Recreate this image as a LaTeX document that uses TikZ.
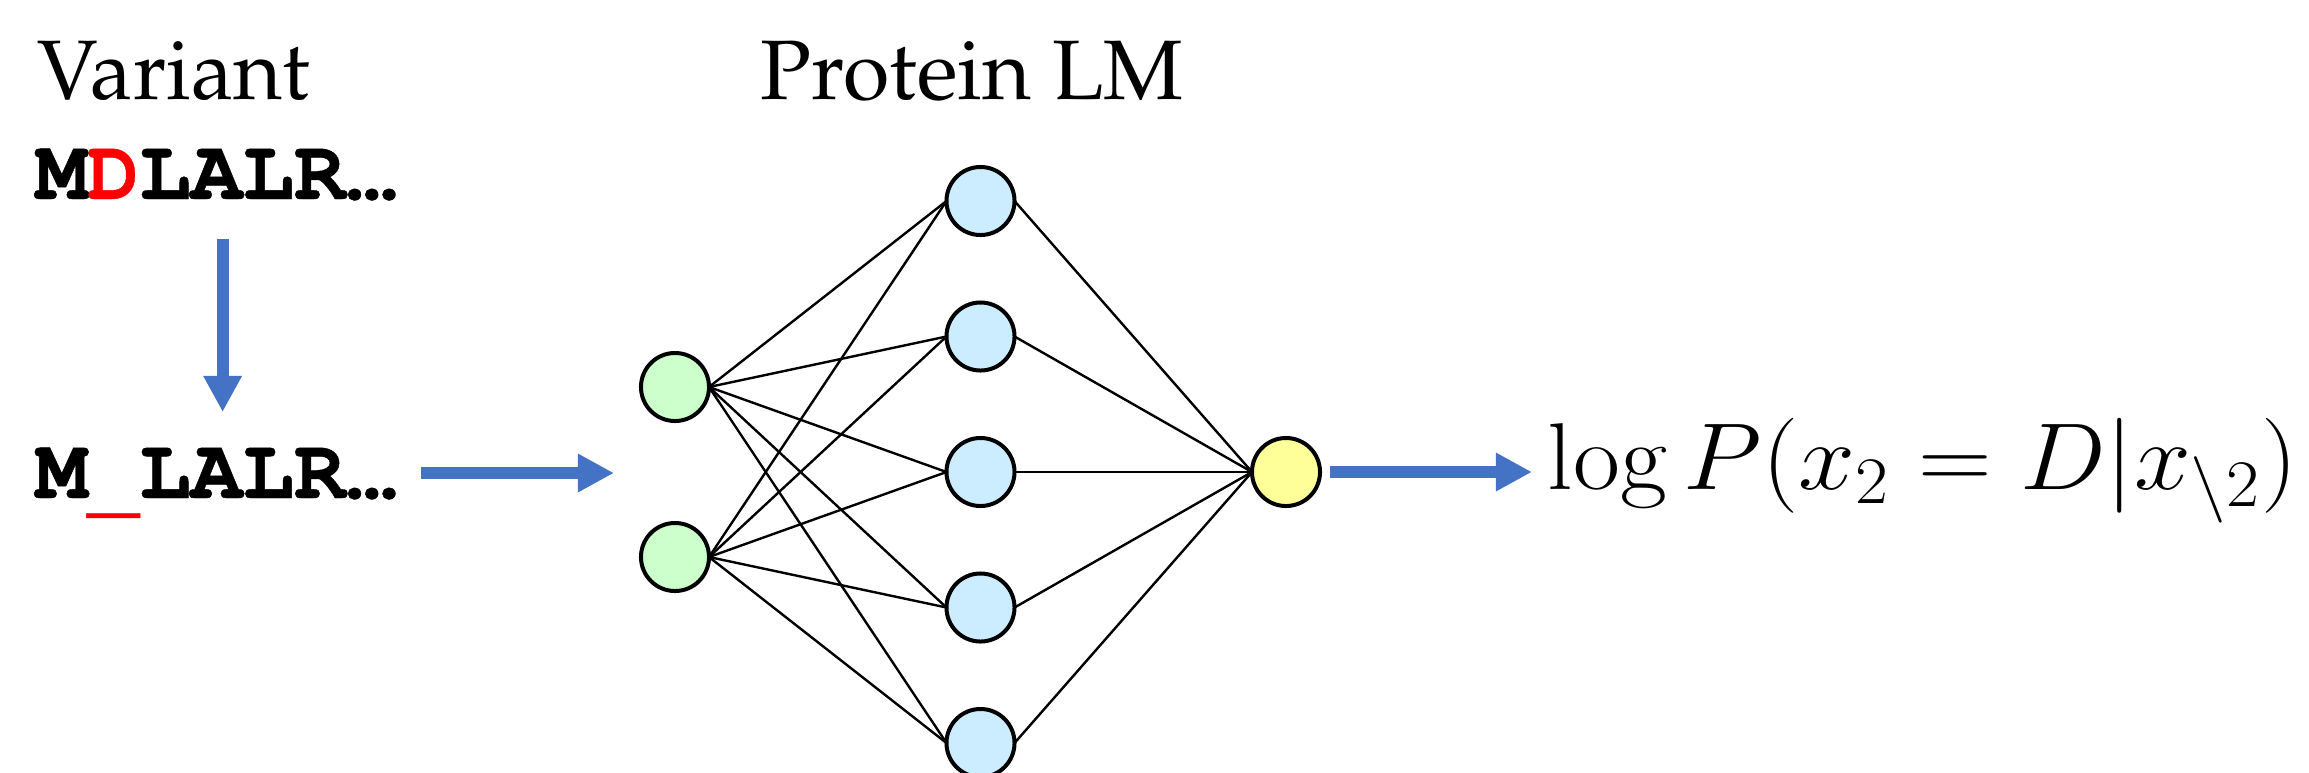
\RequirePackage{fix-cm}
\documentclass[tikz,border=0pt]{standalone}
\usepackage[T1]{fontenc}
\usepackage{fontspec}
\usepackage{graphicx}
\usetikzlibrary{arrows.meta}
\newfontfamily\courbase{texgyrecursor-bold.otf}[FakeBold=0.5]
\definecolor{arrowblue}{RGB}{68,114,196}
\definecolor{ingreen}{RGB}{204,255,204}
\definecolor{hidblue}{RGB}{204,236,255}
\definecolor{outyellow}{RGB}{255,255,153}
\newcommand{\palfont}{\fontencoding{T1}\fontfamily{ppl}\fontsize{24}{29}\selectfont}
\newcommand{\courbold}{\courbase\fontsize{24.5}{29}\selectfont}
\begin{document}
\begin{tikzpicture}[x=0.01cm, y=-0.01cm,
  lab/.style={inner sep=0pt, anchor=base west, font=\palfont},
  seqtext/.style={inner sep=0pt, anchor=base west, font=\courbold},
  neuron/.style={circle, draw=black, line width=0.04cm, minimum size=0.68cm, inner sep=0pt, outer sep=0pt},
  innode/.style={neuron, fill=ingreen},
  hidnode/.style={neuron, fill=hidblue},
  outnode/.style={neuron, fill=outyellow},
  edge/.style={draw=black, line width=0.024cm},
  bigarrow/.style={draw=arrowblue, line width=0.12cm, -{Triangle[length=0.36cm, width=0.36cm]}}
]
\path[use as bounding box] (0,0) rectangle (2309,772);

% titles
\node[lab] (variant) at (37,99) {Variant};
\node[lab] (plm) at (760,99) {Protein LM};

% sequences
\node[seqtext] (seq1) at (35,199) {M\textcolor{red}{D}LALR…};
\node[seqtext] (seq2) at (35,498) {M\textcolor{red}{\raisebox{-0.09cm}{\_}}LALR…};

% network
\node[innode] (i1) at (675,387) {};
\node[innode] (i2) at (675,557) {};
\foreach \j/\y in {1/201, 2/336.5, 3/472, 4/607.5, 5/743}
  \node[hidnode] (h\j) at (980.5,\y) {};
\node[outnode] (o) at (1286,472) {};

\foreach \i in {1,2}
  \foreach \j in {1,...,5}
    \draw[edge] (i\i.east) -- (h\j.west);
\foreach \j in {1,...,5}
  \draw[edge] (h\j.east) -- (o.west);

% output formula
\node[inner sep=0pt, anchor=base west, font=\fontsize{27}{32}\selectfont] (f) at (1547,489)
  {\scalebox{1.075}[1]{$\log P(x_2 = D|x_{\backslash 2})$}};

% arrows
\coordinate (inA) at (614,473);
\draw[bigarrow, shorten <=0.38cm] ([xshift=0.06cm]seq1.south) -- ([xshift=0.06cm]seq1.south |- 0,412);
\draw[bigarrow, shorten <=0.23cm] (seq2.east |- inA) -- (inA);
\draw[bigarrow, shorten <=0.095cm, shorten >=0.15cm] (o.east) -- (o.east -| f.west);
\end{tikzpicture}
\end{document}
